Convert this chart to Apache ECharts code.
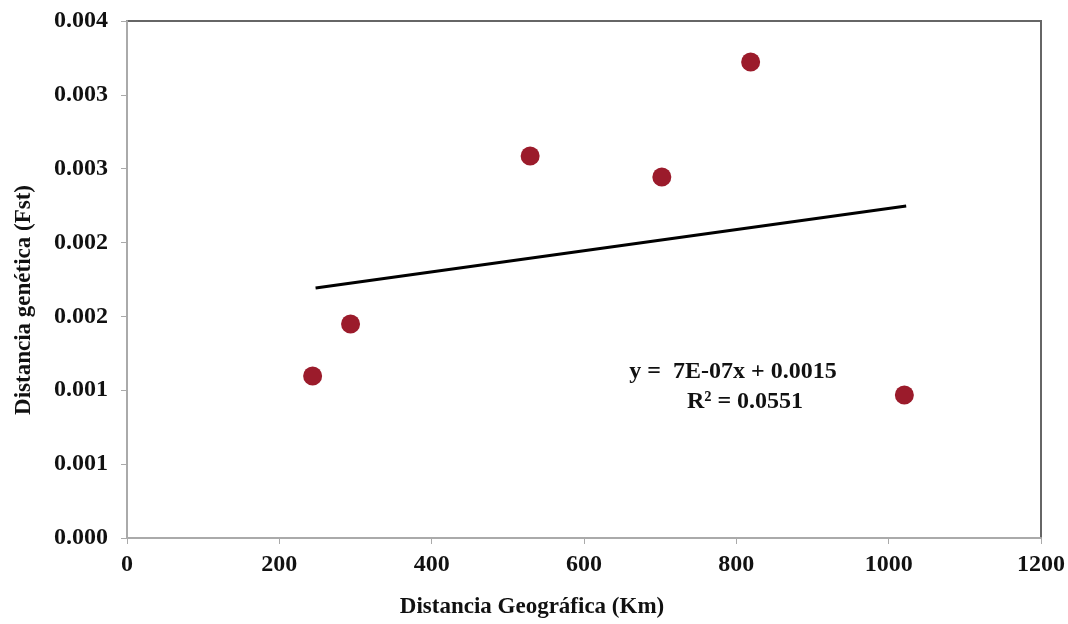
<!DOCTYPE html>
<html>
<head>
<meta charset="utf-8">
<script src="https://cdn.jsdelivr.net/npm/echarts@6/dist/echarts.min.js"></script>
<style>
  html, body { margin: 0; padding: 0; background: #fff; }
  #chart { width: 1068px; height: 624px; }
</style>
</head>
<body>
<div id="chart"></div>
<script>
	'use strict';

	/* data */
	var distKm = [243.7, 293.5, 529.3, 702.2, 818.8, 1020.6];
	var fstValues = [0.001097, 0.001449, 0.002586, 0.002444, 0.003222, 0.000968];
	var trendX = [247.6, 1023];
	var trendY = [0.001692, 0.002248];
	var yTickLabels = ['0.000', '0.001', '0.001', '0.002', '0.002', '0.003', '0.003', '0.004'];
	var equationLines = ['y =  7E-07x + 0.0015', 'R\u00b2 = 0.0551'];

	var fontFam = '"Liberation Serif", "Times New Roman", serif';

	var pts = distKm.map(function (d, i) { return [d, fstValues[i]]; });
	var trend = trendX.map(function (d, i) { return [d, trendY[i]]; });

	var chart = echarts.init(document.getElementById('chart'));

	var option = {
		animation: false,
		grid: {
			left: 127,
			top: 21,
			right: 25,
			bottom: 86,
			show: true,
			borderColor: '#666',
			borderWidth: 2,
			backgroundColor: '#fff'
		},
		xAxis: {
			type: 'value',
			min: 0,
			max: 1200,
			interval: 200,
			splitLine: { show: false },
			axisLine: { lineStyle: { color: '#aaa', width: 2 } },
			axisTick: { show: true, length: 6, lineStyle: { color: '#aaa' } },
			axisLabel: {
				margin: 15,
				fontSize: 24,
				fontWeight: 'bold',
				fontFamily: fontFam,
				color: '#111',
				formatter: function (v) { return String(v); }
			}
		},
		yAxis: {
			type: 'value',
			min: 0,
			max: 0.0035,
			interval: 0.0005,
			splitLine: { show: false },
			axisLine: { show: true, lineStyle: { color: '#aaa', width: 2 } },
			axisTick: { show: true, length: 6, lineStyle: { color: '#aaa' } },
			axisLabel: {
				margin: 19,
				fontSize: 24,
				fontWeight: 'bold',
				fontFamily: fontFam,
				color: '#111',
				formatter: function (v) {
					return yTickLabels[Math.round(v / 0.0005)];
				}
			}
		},
		graphic: [
			{
				type: 'text',
				x: 24,
				y: 300,
				rotation: Math.PI / 2,
				style: {
					text: 'Distancia genética (Fst)',
					fontSize: 23,
					fontWeight: 'bold',
					fontFamily: fontFam,
					fill: '#111',
					align: 'center',
					verticalAlign: 'middle'
				}
			},
			{
				type: 'text',
				x: 532,
				y: 607,
				style: {
					text: 'Distancia Geográfica (Km)',
					fontSize: 23,
					fontWeight: 'bold',
					fontFamily: fontFam,
					fill: '#111',
					align: 'center',
					verticalAlign: 'middle'
				}
			},
			{
				type: 'text',
				x: 733,
				y: 372,
				style: {
					text: equationLines[0],
					fontSize: 24,
					fontWeight: 'bold',
					fontFamily: fontFam,
					fill: '#111',
					align: 'center',
					verticalAlign: 'middle'
				}
			},
			{
				type: 'text',
				x: 745,
				y: 402,
				style: {
					text: equationLines[1],
					fontSize: 24,
					fontWeight: 'bold',
					fontFamily: fontFam,
					fill: '#111',
					align: 'center',
					verticalAlign: 'middle'
				}
			}
		],
		series: [
			{
				name: 'Trend',
				type: 'line',
				data: trend,
				showSymbol: false,
				symbol: 'none',
				lineStyle: { color: '#000', width: 3 },
				z: 2
			},
			{
				name: 'Fst',
				type: 'scatter',
				data: pts,
				symbolSize: 19,
				itemStyle: { color: '#9b1b2b', opacity: 1 },
				z: 3
			}
		]
	};
	chart.setOption(option);
</script>
</body>
</html>
